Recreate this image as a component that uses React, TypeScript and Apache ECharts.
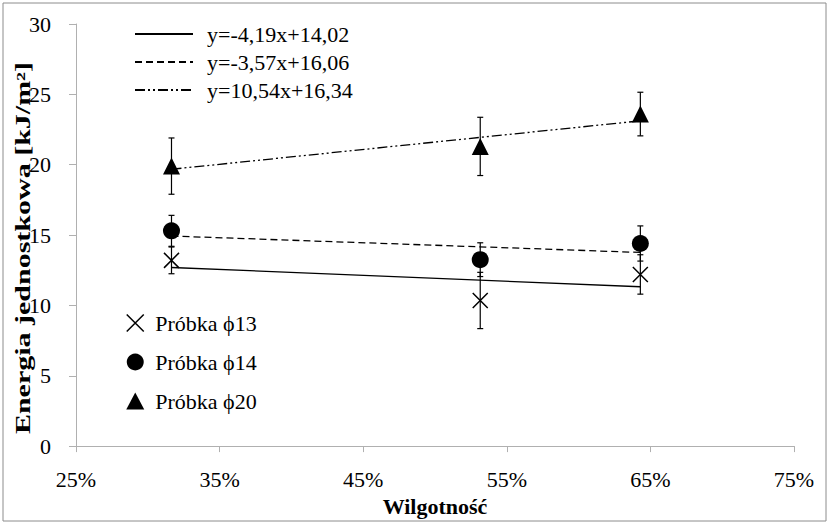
import React, { useEffect, useRef } from "react";
import * as echarts from "echarts";

const xTicks = [25, 35, 45, 55, 65, 75];
const moisture = [31.65, 53.15, 64.3];
const sample13 = [13.2, 10.35, 12.2];
const err13 = [0.95, 2.0, 1.4];
const sample14 = [15.3, 13.25, 14.4];
const err14 = [1.1, 1.2, 1.25];
const sample20 = [19.9, 21.3, 23.6];
const err20 = [2.0, 2.07, 1.55];
const sampleNames = ["Próbka ϕ13", "Próbka ϕ14", "Próbka ϕ20"];
const trendNames = ["y=-4,19x+14,02", "y=-3,57x+16,06", "y=10,54x+16,34"];
const trendSlope = [-4.19, -3.57, 10.54];
const trendIntercept = [14.02, 16.06, 16.34];
const yTitle = "Energia jednostkowa [kJ/m²]";
const xTitle = "Wilgotność";

const FONT = "Liberation Serif";

export default function App() {
  const ref = useRef<HTMLDivElement>(null);
  useEffect(() => {
    document.body.style.margin = "0";
    const chart = echarts.init(ref.current!, null, { renderer: "svg" });
    const values = [sample13, sample14, sample20];
    const errs = [err13, err14, err20];
    const symbols = [
      "path://M0,0L10,10M10,0L0,10",
      "circle",
      "triangle",
    ];
    const symbolSizes = [15, 17, 17];
    const dashTypes: any[] = ["solid", [7, 4], [10, 3, 2, 3, 2, 3]];

    const errorSeries = values.map((vals, i) => ({
      type: "custom",
      name: "err" + i,
      z: 1,
      silent: true,
      data: vals.map((v, j) => [moisture[j], v, errs[i][j]]),
      renderItem: (params: any, api: any) => {
        const x = api.value(0);
        const y = api.value(1);
        const e = api.value(2);
        const top = api.coord([x, y + e]);
        const bot = api.coord([x, y - e]);
        const w = 3;
        const st = { stroke: "#000", lineWidth: 1.2 };
        return {
          type: "group",
          children: [
            { type: "line", shape: { x1: top[0], y1: top[1], x2: bot[0], y2: bot[1] }, style: st },
            { type: "line", shape: { x1: top[0] - w, y1: top[1], x2: top[0] + w, y2: top[1] }, style: st },
            { type: "line", shape: { x1: bot[0] - w, y1: bot[1], x2: bot[0] + w, y2: bot[1] }, style: st },
          ],
        };
      },
    }));

    const scatterSeries = values.map((vals, i) => ({
      type: "scatter",
      name: sampleNames[i],
      z: 3,
      symbol: symbols[i],
      symbolSize: symbolSizes[i],
      itemStyle:
        i === 0
          ? { color: "rgba(0,0,0,0)", borderColor: "#000", borderWidth: 1.5, opacity: 1 }
          : { color: "#000", opacity: 1 },
      data: vals.map((v, j) => [moisture[j], v]),
    }));

    const x0 = moisture[0];
    const x1 = moisture[moisture.length - 1];
    const trendSeries = trendNames.map((n, i) => ({
      type: "line",
      name: n,
      z: 2,
      showSymbol: false,
      symbol: "none",
      itemStyle: { color: "#000" },
      lineStyle: { color: "#000", width: 1.3, type: dashTypes[i] },
      data: [
        [x0, trendSlope[i] * (x0 / 100) + trendIntercept[i]],
        [x1, trendSlope[i] * (x1 / 100) + trendIntercept[i]],
      ],
    }));

    chart.setOption({
      animation: false,
      backgroundColor: "#fff",
      textStyle: { fontFamily: FONT },
      grid: { left: 76, right: 33, top: 24, bottom: 71 },
      xAxis: {
        type: "value",
        min: xTicks[0],
        max: xTicks[xTicks.length - 1],
        interval: 10,
        name: xTitle,
        nameLocation: "middle",
        nameGap: 43,
        nameTextStyle: { fontFamily: FONT, fontWeight: "bold", fontSize: 22, color: "#000" },
        axisLine: { lineStyle: { color: "#b0b0b0", width: 1 } },
        axisTick: { show: true, length: 6, lineStyle: { color: "#b0b0b0" } },
        axisLabel: {
          formatter: "{value}%",
          fontFamily: FONT,
          fontSize: 22,
          color: "#000",
          margin: 22,
        },
        splitLine: { show: false },
      },
      yAxis: {
        type: "value",
        min: 0,
        max: 30,
        interval: 5,
        axisLine: { show: true, lineStyle: { color: "#b0b0b0", width: 1 } },
        axisTick: { show: true, length: 7, lineStyle: { color: "#b0b0b0" } },
        axisLabel: { fontFamily: FONT, fontSize: 22, color: "#000", margin: 25 },
        splitLine: { show: false },
      },
      legend: [
        {
          data: trendNames,
          orient: "vertical",
          left: 129,
          top: 18,
          itemWidth: 58,
          itemHeight: 14,
          itemGap: 6,
          selectedMode: false,
          itemStyle: { opacity: 0 },
          textStyle: { fontFamily: FONT, fontSize: 22, color: "#000", padding: [0, 0, 0, 9] },
        },
        {
          data: sampleNames.map((n, i) => ({
            name: n,
            icon: symbols[i],
            itemStyle:
              i === 0
                ? { color: "rgba(0,0,0,0)", borderColor: "#000", borderWidth: 1.5 }
                : { color: "#000", borderWidth: 0 },
          })),
          orient: "vertical",
          left: 121,
          top: 307,
          itemWidth: 18,
          itemHeight: 17,
          itemGap: 17,
          selectedMode: false,
          textStyle: { fontFamily: FONT, fontSize: 22, color: "#000", padding: [0, 0, 0, 6] },
        },
      ],
      graphic: [
        {
          type: "rect",
          shape: { x: 3, y: 3, width: 823, height: 518 },
          style: { fill: "none", stroke: "#8c8c8c", lineWidth: 1 },
          silent: true,
          z: -1,
        },
        {
          type: "text",
          x: 23,
          y: 248,
          rotation: Math.PI / 2,
          scaleX: 1.5,
          silent: true,
          style: {
            text: yTitle,
            fontFamily: FONT,
            fontWeight: "bold",
            fontSize: 20,
            fill: "#000",
            align: "center",
            verticalAlign: "middle",
          },
        },
      ],
      series: [...errorSeries, ...trendSeries, ...scatterSeries],
    });
    return () => chart.dispose();
  }, []);
  return <div ref={ref} style={{ width: 827, height: 522 }} />;
}
